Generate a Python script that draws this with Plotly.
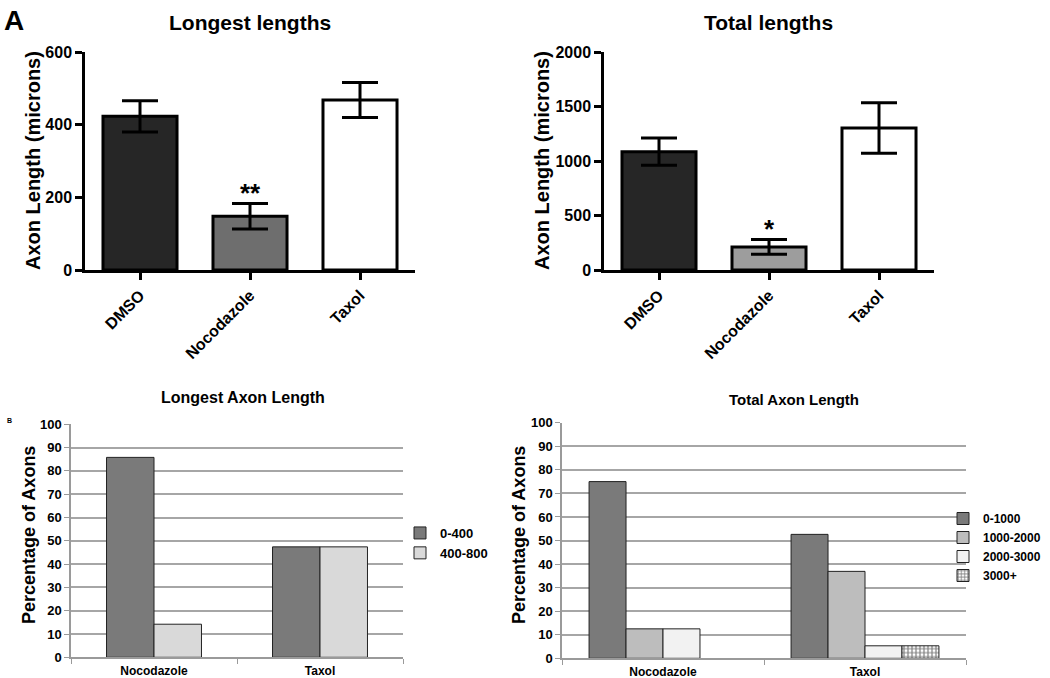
import plotly.graph_objects as go

# ---- data ----
treatments_a = ["DMSO", "Nocodazole", "Taxol"]
longest_mean = [423, 148, 468]
longest_sem = [43, 35, 48]
total_mean = [1087, 212, 1305]
total_sem = [125, 68, 232]

groups_b = ["Nocodazole", "Taxol"]
longest_bins = ["0-400", "400-800"]
longest_pct = {"0-400": [85.8, 47.4], "400-800": [14.2, 47.4]}
total_bins = ["0-1000", "1000-2000", "2000-3000", "3000+"]
total_pct = {"0-1000": [75, 52.6], "1000-2000": [12.5, 36.9],
             "2000-3000": [12.5, 5.3], "3000+": [0, 5.3]}

FONT = "Liberation Sans, Arial, sans-serif"
W, H = 1050, 678

def dx(a, b):
    return [a / W, b / W]

def dy(top, bottom):
    return [1 - bottom / H, 1 - top / H]

fig = go.Figure()

topcolors_l = ["#262626", "#6e6e6e", "#ffffff"]
topcolors_t = ["#262626", "#9d9d9d", "#ffffff"]

fig.add_trace(go.Bar(x=treatments_a, y=longest_mean, xaxis="x", yaxis="y",
                     marker=dict(color=topcolors_l, line=dict(color="black", width=3)),
                     error_y=dict(type="data", array=longest_sem, color="black", thickness=3, width=18),
                     showlegend=False))
fig.add_trace(go.Bar(x=treatments_a, y=total_mean, xaxis="x2", yaxis="y2",
                     marker=dict(color=topcolors_t, line=dict(color="black", width=3)),
                     error_y=dict(type="data", array=total_sem, color="black", thickness=3, width=18),
                     showlegend=False))

# bottom-left
bl_colors = {"0-400": "#7a7a7a", "400-800": "#d9d9d9"}
bl_w = 0.286
for i, b in enumerate(longest_bins):
    fig.add_trace(go.Bar(x=groups_b, y=longest_pct[b], name=b, xaxis="x3", yaxis="y3",
                         width=bl_w, offset=-bl_w + i * bl_w,
                         marker=dict(color=bl_colors[b], line=dict(color="#222222", width=1)),
                         legend="legend"))

# bottom-right
br_colors = {"0-1000": "#7a7a7a", "1000-2000": "#bdbdbd", "2000-3000": "#f2f2f2", "3000+": "#ffffff"}
br_w = 0.183
for i, b in enumerate(total_bins):
    mk = dict(color=br_colors[b], line=dict(color="#222222", width=1))
    if b == "3000+":
        mk["pattern"] = dict(shape="+", fgcolor="black", bgcolor="white", size=4, solidity=0.5)
    yv = [v if v > 0 else None for v in total_pct[b]]
    fig.add_trace(go.Bar(x=groups_b, y=yv, name=b, xaxis="x4", yaxis="y4",
                         width=br_w, offset=-2 * br_w + i * br_w,
                         marker=mk, legend="legend2"))

top_x = dict(showline=True, linecolor="black", linewidth=2.5, ticks="outside", ticklen=7,
             tickwidth=2.5, tickcolor="black", tickangle=-45, automargin=False,
             tickfont=dict(family=FONT, size=16, color="black", weight="bold"),
             range=[-0.5, 2.5], fixedrange=True)
top_y = dict(showline=True, linecolor="black", linewidth=2.5, ticks="outside", ticklen=7,
             tickwidth=2.5, tickcolor="black", showgrid=False, zeroline=False, automargin=False,
             tickfont=dict(family=FONT, size=16, color="black", weight="bold"))

bot_x = dict(showline=True, linecolor="#9a9a9a", linewidth=1.5, ticks="outside", ticklen=5,
             tickcolor="#9a9a9a", tickson="boundaries", range=[-0.5, 1.5], automargin=False,
             ticklabelstandoff=2,
             tickfont=dict(family=FONT, size=12, color="black", weight="bold"))
bot_y = dict(showline=True, linecolor="#9a9a9a", linewidth=1.5, ticks="outside", ticklen=5,
             tickcolor="#9a9a9a", showgrid=True, gridcolor="#a6a6a6", gridwidth=1.5,
             zeroline=False, range=[0, 100], dtick=10, automargin=False,
             tickfont=dict(family=FONT, size=13, color="black", weight="bold"))

fig.update_layout(
    width=W, height=H, margin=dict(l=0, r=0, t=0, b=0, autoexpand=False),
    paper_bgcolor="white", plot_bgcolor="white",
    barmode="group", bargap=0.327,
    xaxis=dict(top_x, domain=dx(85, 415), anchor="y"),
    yaxis=dict(top_y, domain=dy(52, 270), anchor="x", range=[0, 600], dtick=200),
    xaxis2=dict(top_x, domain=dx(604, 934), anchor="y2"),
    yaxis2=dict(top_y, domain=dy(52.3, 270), anchor="x2", range=[0, 2000], dtick=500),
    xaxis3=dict(bot_x, domain=dx(71, 403), anchor="y3"),
    yaxis3=dict(bot_y, domain=dy(424.3, 657.3), anchor="x3"),
    xaxis4=dict(bot_x, domain=dx(562, 966), anchor="y4"),
    yaxis4=dict(bot_y, domain=dy(422.7, 658.3), anchor="x4"),
    legend=dict(x=400 / W, y=1 - 518 / H, xanchor="left", yanchor="top",
                font=dict(family=FONT, size=13, color="black", weight="bold"),
                itemwidth=30, tracegroupgap=0, bgcolor="rgba(0,0,0,0)"),
    legend2=dict(x=943 / W, y=1 - 504 / H, xanchor="left", yanchor="top",
                 font=dict(family=FONT, size=12, color="black", weight="bold"),
                 itemwidth=30, tracegroupgap=0, bgcolor="rgba(0,0,0,0)"),
    showlegend=True,
)

annots = [
    dict(text="A", x=2 / W, y=1 - 3 / H, xanchor="left", yanchor="top",
         font=dict(family=FONT, size=28, color="black", weight="bold")),
    dict(text="Longest lengths", x=250 / W, y=1 - 22 / H, xanchor="center", yanchor="middle",
         font=dict(family=FONT, size=21, color="black", weight="bold")),
    dict(text="Total lengths", x=768 / W, y=1 - 22 / H, xanchor="center", yanchor="middle",
         font=dict(family=FONT, size=21, color="black", weight="bold")),
    dict(text="Longest Axon Length", x=243 / W, y=1 - 398 / H, xanchor="center", yanchor="middle",
         font=dict(family=FONT, size=16, color="black", weight="bold")),
    dict(text="Total Axon Length", x=794 / W, y=1 - 399 / H, xanchor="center", yanchor="middle",
         font=dict(family=FONT, size=15, color="black", weight="bold")),
    dict(text="B", x=9 / W, y=1 - 420 / H, xanchor="center", yanchor="middle",
         font=dict(family=FONT, size=7, color="black", weight="bold")),
    dict(text="Axon Length (microns)", x=33 / W, y=1 - 161 / H, xanchor="center", yanchor="middle",
         textangle=-90, font=dict(family=FONT, size=20, color="black", weight="bold")),
    dict(text="Axon Length (microns)", x=542 / W, y=1 - 161 / H, xanchor="center", yanchor="middle",
         textangle=-90, font=dict(family=FONT, size=20, color="black", weight="bold")),
    dict(text="Percentage of Axons", x=29 / W, y=1 - 535 / H, xanchor="center", yanchor="middle",
         textangle=-90, font=dict(family=FONT, size=18, color="black", weight="bold")),
    dict(text="Percentage of Axons", x=519 / W, y=1 - 535 / H, xanchor="center", yanchor="middle",
         textangle=-90, font=dict(family=FONT, size=18, color="black", weight="bold")),
]
for a in annots:
    a.update(xref="paper", yref="paper", showarrow=False)
    fig.add_annotation(**a)

fig.add_annotation(text="**", x="Nocodazole", y=longest_mean[1] + longest_sem[1], xref="x", yref="y",
                   yanchor="bottom", showarrow=False, yshift=-6,
                   font=dict(family=FONT, size=26, color="black", weight="bold"))
fig.add_annotation(text="*", x="Nocodazole", y=total_mean[1] + total_sem[1], xref="x2", yref="y2",
                   yanchor="bottom", showarrow=False, yshift=-6,
                   font=dict(family=FONT, size=26, color="black", weight="bold"))

fig.write_html("out.html", config={"displayModeBar": False},
               post_script="document.body.style.margin='0';document.body.style.padding='0';")
